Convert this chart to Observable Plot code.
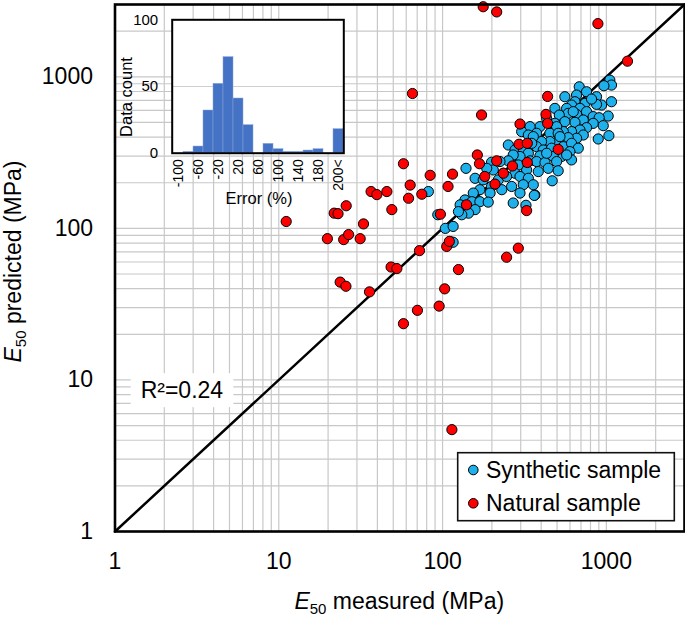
<!DOCTYPE html>
<html><head><meta charset="utf-8">
<script src="https://cdn.jsdelivr.net/npm/d3@7"></script>
<script src="https://cdn.jsdelivr.net/npm/@observablehq/plot@0.6"></script>
<style>
body{margin:0;background:#fff;}
#wrap{position:relative;width:685px;height:617px;font-family:"Liberation Sans",Arial,sans-serif;}
#wrap svg{font-family:"Liberation Sans",Arial,sans-serif;}
</style></head><body><div id="wrap"></div>
<script>
// ---- Data ----
const synthMeasured = [1050,1075,966,683,757,658,558,871,1075,935,871,740,643,613,690,572,485,757,658,585,516,831,1026,904,723,643,558,485,393,342,957,831,757,690,613,546,497,452,508,375,304,334,1036,892,723,658,585,508,452,402,358,252,277,311,375,412,463,546,613,674,599,533,474,393,334,297,270,252,224,199,342,375,422,497,613,572,442,508,384,326,290,277,235,204,186,139,158,177,219,246,297,334,467,358,311,264,230,199,195,169,154,297,366,81.9,137,128,151,169,190,158,144,131,125,270,323,363,93.5,104,116,111,116,628,432,812,521,432,350];
const synthPredicted = [951,882,873,859,797,758,739,739,685,651,658,668,685,651,619,619,619,589,565,574,559,546,551,537,519,501,506,493,469,469,476,493,462,446,435,435,469,424,424,424,435,413,409,389,413,393,397,377,374,374,403,355,329,324,346,329,338,346,364,338,321,298,298,301,313,298,305,279,276,273,279,276,272,276,283,305,249,240,237,243,262,231,231,243,249,249,214,209,209,220,220,214,206,194,194,189,180,189,171,180,171,171,166,175,154,143,150,150,149,133,126,123,129,147,142,165,123,100,103,82,81,589,532,713,403,313,364];
const natMeasured = [177,214,888,1346,65.5,173,438,428,438,297,293,329,508,57.7,163,168,214,329,267,84,115,235,181,63.4,108,209,74.7,62,36.6,39.7,45.7,49,25.8,21.8,23,11.1,32.9,97,19.8,24.9,26.7,31.4,106,110,72.3,48.5,52.6,125,23.7,25.7,35.8,103,95.3,70.2,57.7,114,140,326,290,246];
const natPredicted = [2900,2680,2243,1268,776,560,742,565,493,488,359,364,332,267,305,267,279,272,258,224,228,231,220,193,189,196,168,158,175,167,175,133,141,126,125,111,107,124,85.5,84.3,91,85.5,76,82,71.3,55.6,54.3,53.5,44.2,41.5,38.1,39.9,30.7,28.8,23.5,4.7,143,131,74,64.5];
const oneToOne = [1, 3000];
const axisTicks = [1, 10, 100, 1000];
const gridValues = [1,2,3,4,5,6,7,8,9,10,20,30,40,50,60,70,80,90,100,200,300,400,500,600,700,800,900,1000,2000,3000];
const r2Label = "R\u00B2=0.24";
const r2Pos = {x: 2.58, y: 8.5};

const errorBins = ["-100","-80","-60","-40","-20","0","20","40","60","80","100","120","140","160","180","200","200<"];
const errorCounts = [0,1,5,32,52,72,41,21,0,7,3,1,1,2,3,0,18];
const errorLabels = ["-100","-60","-20","20","60","100","140","180","200<"];
const countTicks = [0, 50, 100];

const synth = synthMeasured.map((m, i) => ({m, p: synthPredicted[i]}));
const nat = natMeasured.map((m, i) => ({m, p: natPredicted[i]}));
const hist = errorBins.map((b, i) => ({bin: b, count: errorCounts[i]}));

const W = 685, H = 617, ML = 114.5, MR = 1, MT = 4, MB = 86;
const FONT = 23;
const BLUE = "#1EB0EA", RED = "#FF0000";

const main = Plot.plot({
  width: W, height: H,
  marginLeft: ML, marginRight: MR, marginTop: MT, marginBottom: MB,
  style: {background: "white", color: "black", overflow: "visible"},
  x: {type: "log", domain: [1, 3000]},
  y: {type: "log", domain: [1, 3000]},
  marks: [
    Plot.gridX(gridValues, {stroke: "#c8c8c8", strokeOpacity: 1, strokeWidth: 1.2}),
    Plot.gridY(gridValues, {stroke: "#c8c8c8", strokeOpacity: 1, strokeWidth: 1.2}),
    Plot.line(oneToOne, {x: d => d, y: d => d, stroke: "black", strokeWidth: 2.5}),
    Plot.dot(synth, {x: "m", y: "p", r: 5.1, fill: BLUE, stroke: "black", strokeWidth: 1}),
    Plot.dot(nat, {x: "m", y: "p", r: 5.1, fill: RED, stroke: "black", strokeWidth: 1}),
    Plot.frame({stroke: "black", strokeWidth: 2.6}),
    Plot.axisX(axisTicks, {tickSize: 0, tickPadding: 21, fontSize: FONT, label: null, tickFormat: d => String(d)}),
    Plot.axisY(axisTicks, {tickSize: 0, tickPadding: 22, fontSize: FONT, label: null, tickFormat: d => String(d)})
  ]
});
const wrap = document.getElementById("wrap");
wrap.appendChild(main);

const svg = d3.select(main);
const sx = main.scale("x"), sy = main.scale("y");

// R2 label with white box
const r2g = svg.append("g");
const r2t = r2g.append("text")
  .attr("x", sx.apply(r2Pos.x)).attr("y", sy.apply(r2Pos.y)).attr("dy", "0.35em")
  .attr("text-anchor", "middle").attr("font-size", FONT).attr("fill", "black").text(r2Label);
const bb = r2t.node().getBBox();
r2g.insert("rect", "text").attr("x", bb.x - 10).attr("y", bb.y - 4)
  .attr("width", bb.width + 20).attr("height", bb.height + 8).attr("fill", "white");
// keep points and frame above label box: move label group right after grid/line
const lineG = svg.selectAll("g[aria-label='line']").node();
if (lineG && lineG.nextSibling) main.insertBefore(r2g.node(), lineG.nextSibling);

// axis titles
const cx = (ML + (W - MR)) / 2;
const xt = svg.append("text").attr("x", cx).attr("y", 609).attr("text-anchor", "middle")
  .attr("font-size", FONT).attr("fill", "black");
xt.append("tspan").attr("font-style", "italic").text("E");
xt.append("tspan").attr("font-size", 15).attr("dy", 5).text("50");
xt.append("tspan").attr("dy", -5).text(" measured (MPa)");

const cy = (MT + (H - MB)) / 2 - 6;
const yt = svg.append("text").attr("transform", `translate(21,${cy}) rotate(-90)`).attr("text-anchor", "middle")
  .attr("font-size", FONT).attr("fill", "black");
yt.append("tspan").attr("font-style", "italic").text("E");
yt.append("tspan").attr("font-size", 15).attr("dy", 5).text("50");
yt.append("tspan").attr("dy", -5).text(" predicted (MPa)");

// legend
const lg = svg.append("g");
lg.append("rect").attr("x", 457.7).attr("y", 452.7).attr("width", 216.6).attr("height", 68)
  .attr("fill", "white").attr("stroke", "#111").attr("stroke-width", 1.6);
const legendItems = [["Synthetic sample", BLUE, 470], ["Natural sample", RED, 503.3]];
for (const [lab, col, yy] of legendItems) {
  lg.append("circle").attr("cx", 473.3).attr("cy", yy).attr("r", 4.8).attr("fill", col).attr("stroke", "black").attr("stroke-width", 1);
  lg.append("text").attr("x", 486).attr("y", yy + 8).attr("text-anchor", "start")
    .attr("font-size", FONT).attr("fill", "black").text(lab);
}

// ---- inset histogram ----
const IL = 110, IW = 250, IH = 210;
const inset = Plot.plot({
  width: IW, height: IH,
  marginLeft: 171.7 - IL, marginRight: IW - (343.3 - IL), marginTop: 19.3, marginBottom: IH - 152.7,
  style: {background: "transparent", color: "black", overflow: "visible"},
  x: {type: "band", domain: errorBins, padding: 0},
  y: {domain: [0, 100]},
  marks: [
    Plot.frame({fill: "white"}),
    Plot.gridY([50], {stroke: "#cfcfcf", strokeOpacity: 1, strokeWidth: 1.2}),
    Plot.barY(hist, {x: "bin", y: "count", fill: "#4472C4", stroke: "#8aa4d8", strokeWidth: 0.5, inset: 0}),
    Plot.frame({stroke: "black", strokeWidth: 2}),
    Plot.axisX(errorLabels, {tickSize: 0, tickPadding: 6, tickRotate: -90, fontSize: 14, label: null}),
    Plot.axisY(countTicks, {tickSize: 0, tickPadding: 14, fontSize: 15, label: null})
  ]
});
inset.style.position = "absolute";
inset.style.left = IL + "px";
inset.style.top = "0px";
wrap.appendChild(inset);
const isvg = d3.select(inset);
isvg.append("text").attr("transform", `translate(${127 - IL + 5},97) rotate(-90)`).attr("text-anchor", "middle")
  .attr("font-size", 16.5).attr("fill", "black").text("Data count");
isvg.append("text").attr("x", 259 - IL).attr("y", 204).attr("text-anchor", "middle")
  .attr("font-size", 16.5).attr("fill", "black").text("Error (%)");
</script></body></html>
